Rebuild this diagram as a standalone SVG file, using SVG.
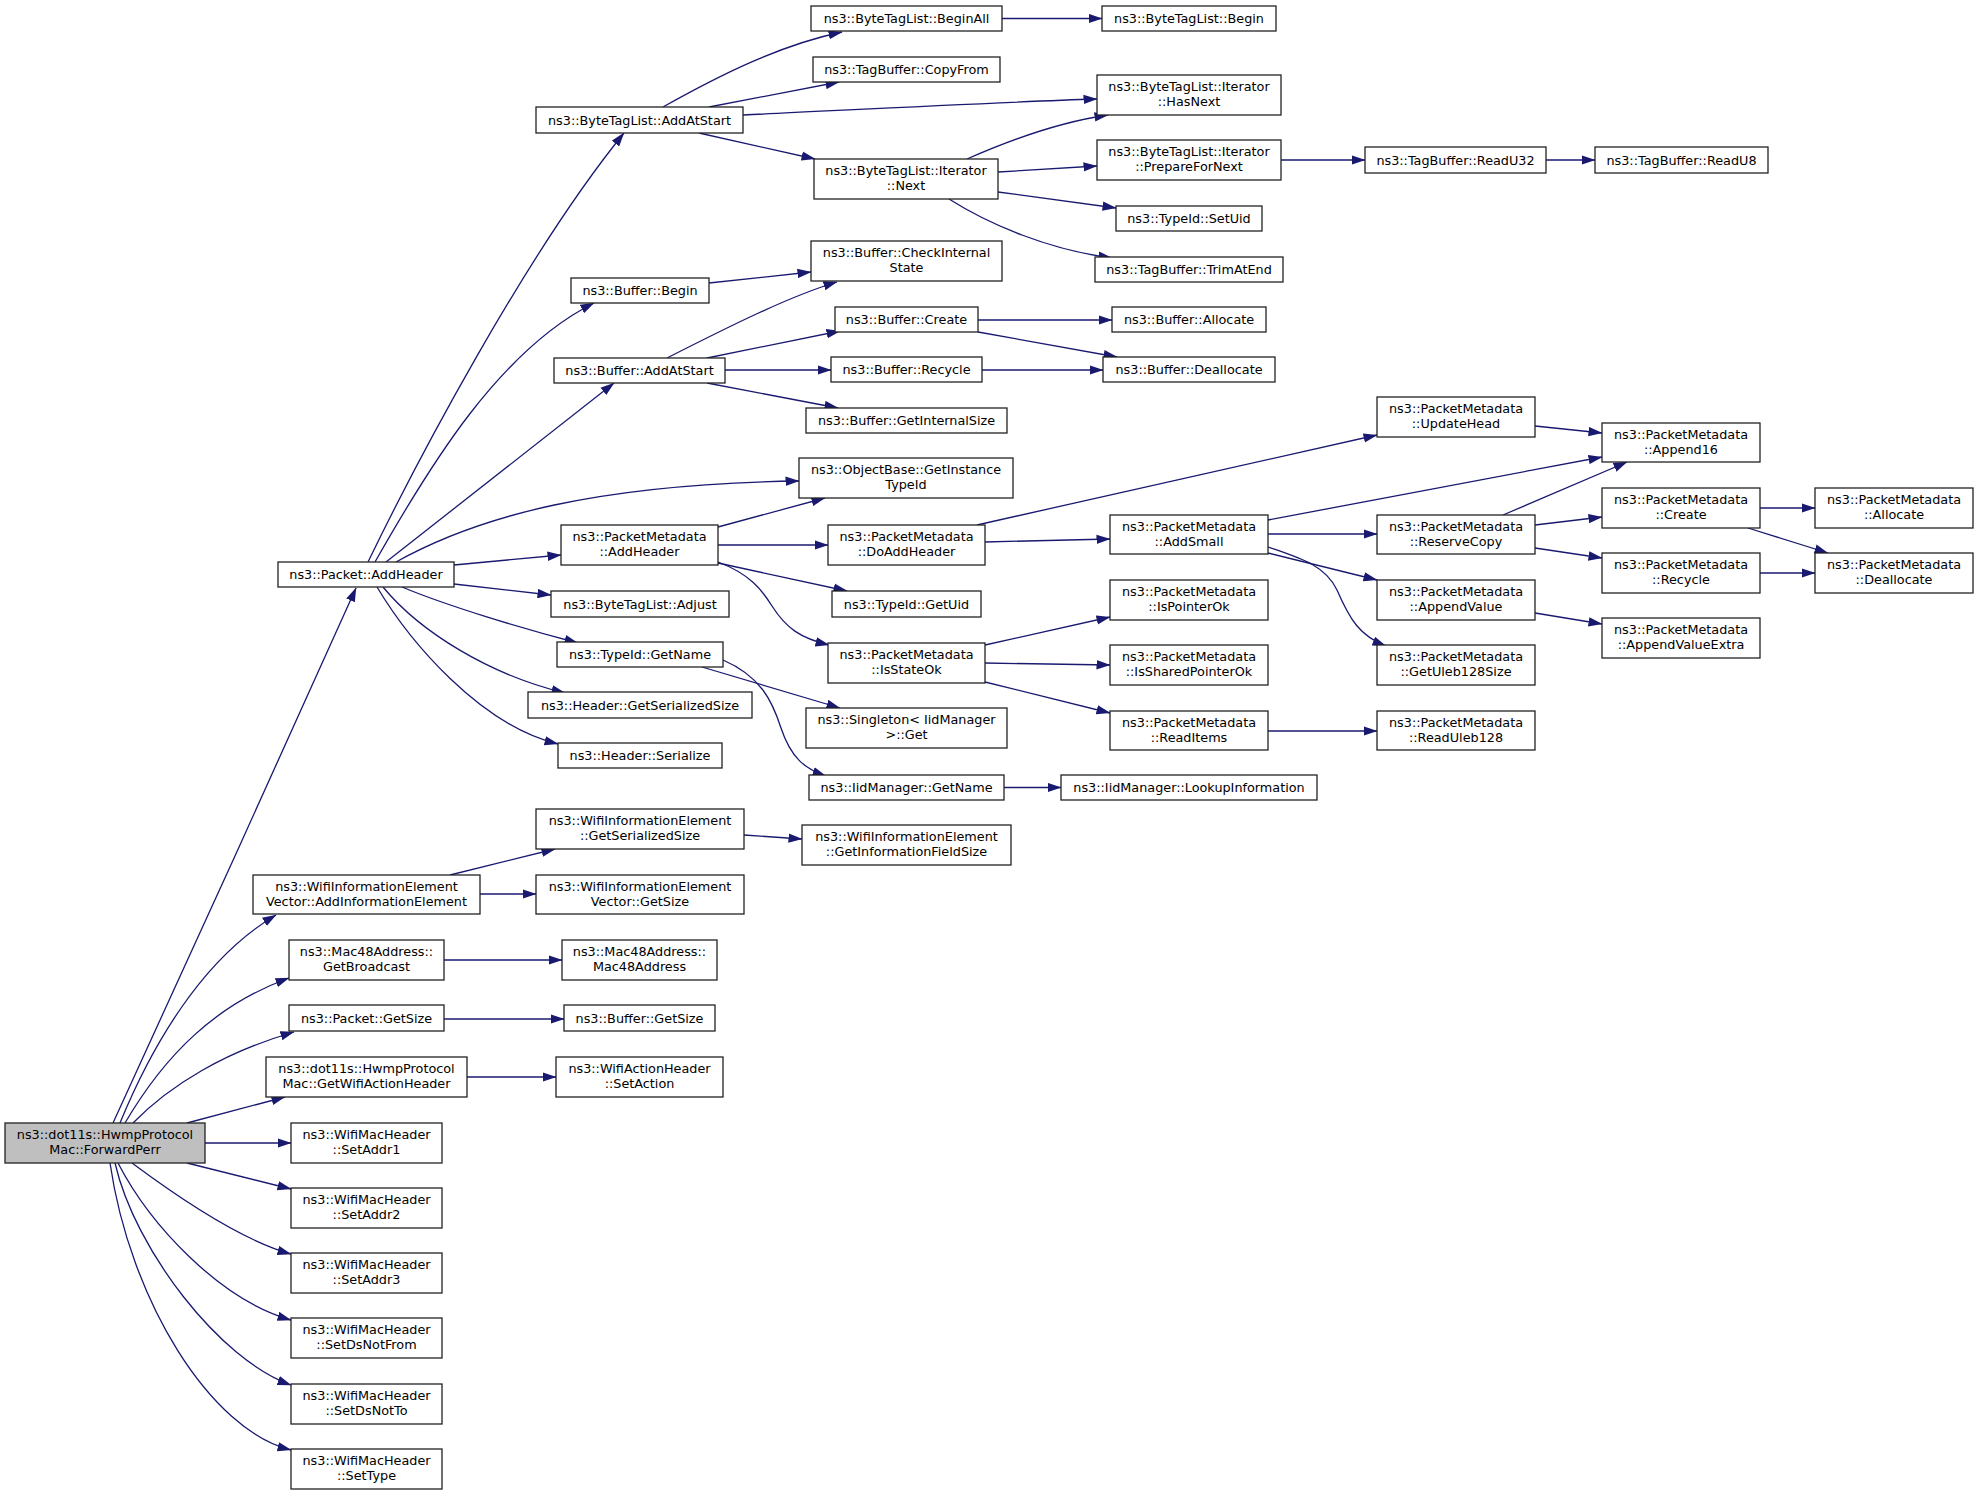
<svg xmlns="http://www.w3.org/2000/svg" width="1979" height="1495" viewBox="0 0 1979 1495">
<style>
.n rect{fill:#ffffff;stroke:#222222;stroke-width:1.3}
.n.root rect{fill:#bfbfbf}
text{font-family:"DejaVu Sans","Liberation Sans",sans-serif;font-size:12.8px;text-anchor:middle;fill:#000000}
#edges path{fill:none;stroke:#191970;stroke-width:1.3;marker-end:url(#arr)}
</style>
<defs>
<marker id="arr" markerUnits="userSpaceOnUse" markerWidth="14" markerHeight="10" viewBox="0 0 14 9.4" refX="13.5" refY="4.7" orient="auto">
<path d="M0,0 L14,4.7 L0,9.4 z" fill="#191970"/>
</marker>
</defs>
<rect x="0" y="0" width="1979" height="1495" fill="#ffffff"/>
<g id="edges">
<path d="M113,1123 C170,998 300,715 356,588"/>
<path d="M120,1123 C150,1050 200,960 276,915"/>
<path d="M125,1123 C165,1055 215,1005 289,978"/>
<path d="M133,1123 C170,1085 225,1052 294,1032"/>
<path d="M187,1123 L285,1097"/>
<path d="M205,1143 L291,1143"/>
<path d="M187,1163 L291,1189"/>
<path d="M132,1163 C175,1195 240,1240 291,1254"/>
<path d="M118,1163 C150,1225 220,1300 291,1320"/>
<path d="M115,1163 C135,1250 220,1360 291,1385"/>
<path d="M110,1163 C130,1300 210,1430 291,1450"/>
<path d="M368,562 C415,465 525,255 624,133"/>
<path d="M375,562 C430,465 500,350 594,303"/>
<path d="M386,562 L614,383"/>
<path d="M396,562 C480,515 600,484 799,481"/>
<path d="M454,565 L561,555"/>
<path d="M454,584 L551,595"/>
<path d="M402,587 C445,605 520,628 578,643"/>
<path d="M383,587 C420,632 490,675 565,693"/>
<path d="M377,587 C410,642 480,725 558,744"/>
<path d="M663,107 C720,75 780,45 842,32"/>
<path d="M709,107 L839,82"/>
<path d="M743,115 C850,110 1000,102 1097,99"/>
<path d="M699,133 L815,159"/>
<path d="M967,159 C1010,140 1060,122 1108,115"/>
<path d="M998,172 L1097,166"/>
<path d="M998,192 L1116,208"/>
<path d="M949,199 C990,225 1050,250 1112,258"/>
<path d="M1281,160 L1365,160"/>
<path d="M1546,160 L1595,160"/>
<path d="M1002,18.5 L1102,18.5"/>
<path d="M709,283 L811,272"/>
<path d="M667,358 C730,326 790,296 837,282"/>
<path d="M707,358 L840,331"/>
<path d="M725,370 L831,370"/>
<path d="M707,383 L838,408"/>
<path d="M978,320 L1112,320"/>
<path d="M978,332 L1117,357"/>
<path d="M982,370 L1103,370"/>
<path d="M718,527 L825,498"/>
<path d="M718,545 L828,545"/>
<path d="M718,563 L847,591"/>
<path d="M718,562 C750,574 762,590 772,606 C786,628 800,638 829,645"/>
<path d="M702,667 L840,708"/>
<path d="M723,660 C760,676 772,700 781,728 C791,758 805,769 826,776"/>
<path d="M1004,787.5 L1061,787.5"/>
<path d="M977,525 L1377,435"/>
<path d="M985,542 L1110,539"/>
<path d="M985,645 L1110,617"/>
<path d="M985,663 L1110,665"/>
<path d="M985,682 L1110,713"/>
<path d="M1268,520 L1602,457"/>
<path d="M1268,534 L1377,534"/>
<path d="M1268,553 L1377,580"/>
<path d="M1268,547 C1300,558 1325,565 1337,590 C1350,620 1360,636 1386,646"/>
<path d="M1503,515 L1627,462"/>
<path d="M1535,525 L1602,517"/>
<path d="M1535,548 L1602,558"/>
<path d="M1535,426 L1602,433"/>
<path d="M1535,613 L1602,624"/>
<path d="M1268,731 L1377,731"/>
<path d="M1760,508 L1815,508"/>
<path d="M1748,528 L1828,553"/>
<path d="M1760,573 L1815,573"/>
<path d="M450,875 L555,849"/>
<path d="M480,894 L536,894"/>
<path d="M744,835 L802,839"/>
<path d="M444,960 L562,960"/>
<path d="M444,1019 L564,1019"/>
<path d="M467,1077 L556,1077"/>
</g>
<g id="n_forwardperr" class="n root"><rect x="5" y="1123" width="200" height="40"/><text x="105" y="1139.3">ns3::dot11s::HwmpProtocol</text><text x="105" y="1154">Mac::ForwardPerr</text></g>
<g id="n_packet_addheader" class="n"><rect x="278" y="562" width="176" height="25"/><text x="366" y="579">ns3::Packet::AddHeader</text></g>
<g id="n_addinfoelem" class="n"><rect x="253" y="875" width="227" height="39"/><text x="366.5" y="890.8">ns3::WifiInformationElement</text><text x="366.5" y="905.5">Vector::AddInformationElement</text></g>
<g id="n_getbroadcast" class="n"><rect x="289" y="940" width="155" height="40"/><text x="366.5" y="956.3">ns3::Mac48Address::</text><text x="366.5" y="971">GetBroadcast</text></g>
<g id="n_packet_getsize" class="n"><rect x="289" y="1005" width="155" height="26"/><text x="366.5" y="1022.5">ns3::Packet::GetSize</text></g>
<g id="n_getwifiactionheader" class="n"><rect x="266" y="1057" width="201" height="40"/><text x="366.5" y="1073.3">ns3::dot11s::HwmpProtocol</text><text x="366.5" y="1088">Mac::GetWifiActionHeader</text></g>
<g id="n_setaddr1" class="n"><rect x="291" y="1123" width="151" height="40"/><text x="366.5" y="1139.3">ns3::WifiMacHeader</text><text x="366.5" y="1154">::SetAddr1</text></g>
<g id="n_setaddr2" class="n"><rect x="291" y="1188" width="151" height="40"/><text x="366.5" y="1204.3">ns3::WifiMacHeader</text><text x="366.5" y="1219">::SetAddr2</text></g>
<g id="n_setaddr3" class="n"><rect x="291" y="1253" width="151" height="40"/><text x="366.5" y="1269.3">ns3::WifiMacHeader</text><text x="366.5" y="1284">::SetAddr3</text></g>
<g id="n_setdsnotfrom" class="n"><rect x="291" y="1318" width="151" height="40"/><text x="366.5" y="1334.3">ns3::WifiMacHeader</text><text x="366.5" y="1349">::SetDsNotFrom</text></g>
<g id="n_setdsnotto" class="n"><rect x="291" y="1384" width="151" height="40"/><text x="366.5" y="1400.3">ns3::WifiMacHeader</text><text x="366.5" y="1415">::SetDsNotTo</text></g>
<g id="n_settype" class="n"><rect x="291" y="1449" width="151" height="40"/><text x="366.5" y="1465.3">ns3::WifiMacHeader</text><text x="366.5" y="1480">::SetType</text></g>
<g id="n_btl_addatstart" class="n"><rect x="536" y="107" width="207" height="26"/><text x="639.5" y="124.5">ns3::ByteTagList::AddAtStart</text></g>
<g id="n_buffer_begin" class="n"><rect x="571" y="278" width="138" height="25"/><text x="640" y="295">ns3::Buffer::Begin</text></g>
<g id="n_buffer_addatstart" class="n"><rect x="554" y="358" width="171" height="25"/><text x="639.5" y="375">ns3::Buffer::AddAtStart</text></g>
<g id="n_pm_addheader" class="n"><rect x="561" y="525" width="157" height="40"/><text x="639.5" y="541.3">ns3::PacketMetadata</text><text x="639.5" y="556">::AddHeader</text></g>
<g id="n_btl_adjust" class="n"><rect x="551" y="591" width="178" height="26"/><text x="640" y="608.5">ns3::ByteTagList::Adjust</text></g>
<g id="n_typeid_getname" class="n"><rect x="557" y="642" width="166" height="25"/><text x="640" y="659">ns3::TypeId::GetName</text></g>
<g id="n_header_getserializedsize" class="n"><rect x="528" y="692" width="224" height="26"/><text x="640" y="709.5">ns3::Header::GetSerializedSize</text></g>
<g id="n_header_serialize" class="n"><rect x="558" y="743" width="164" height="25"/><text x="640" y="760">ns3::Header::Serialize</text></g>
<g id="n_wie_getserializedsize" class="n"><rect x="536" y="809" width="208" height="40"/><text x="640" y="825.3">ns3::WifiInformationElement</text><text x="640" y="840">::GetSerializedSize</text></g>
<g id="n_wiev_getsize" class="n"><rect x="536" y="875" width="208" height="39"/><text x="640" y="890.8">ns3::WifiInformationElement</text><text x="640" y="905.5">Vector::GetSize</text></g>
<g id="n_mac48address" class="n"><rect x="562" y="940" width="155" height="40"/><text x="639.5" y="956.3">ns3::Mac48Address::</text><text x="639.5" y="971">Mac48Address</text></g>
<g id="n_buffer_getsize" class="n"><rect x="564" y="1005" width="151" height="26"/><text x="639.5" y="1022.5">ns3::Buffer::GetSize</text></g>
<g id="n_setaction" class="n"><rect x="556" y="1057" width="167" height="40"/><text x="639.5" y="1073.3">ns3::WifiActionHeader</text><text x="639.5" y="1088">::SetAction</text></g>
<g id="n_btl_beginall" class="n"><rect x="811" y="6" width="191" height="25"/><text x="906.5" y="23">ns3::ByteTagList::BeginAll</text></g>
<g id="n_tb_copyfrom" class="n"><rect x="813" y="57" width="187" height="25"/><text x="906.5" y="74">ns3::TagBuffer::CopyFrom</text></g>
<g id="n_iter_next" class="n"><rect x="814" y="159" width="184" height="40"/><text x="906" y="175.3">ns3::ByteTagList::Iterator</text><text x="906" y="190">::Next</text></g>
<g id="n_checkinternalstate" class="n"><rect x="811" y="241" width="191" height="40"/><text x="906.5" y="257.3">ns3::Buffer::CheckInternal</text><text x="906.5" y="272">State</text></g>
<g id="n_buffer_create" class="n"><rect x="835" y="307" width="143" height="25"/><text x="906.5" y="324">ns3::Buffer::Create</text></g>
<g id="n_buffer_recycle" class="n"><rect x="831" y="357" width="151" height="25"/><text x="906.5" y="374">ns3::Buffer::Recycle</text></g>
<g id="n_buffer_getinternalsize" class="n"><rect x="806" y="408" width="201" height="25"/><text x="906.5" y="425">ns3::Buffer::GetInternalSize</text></g>
<g id="n_getinstancetypeid" class="n"><rect x="799" y="458" width="214" height="40"/><text x="906" y="474.3">ns3::ObjectBase::GetInstance</text><text x="906" y="489">TypeId</text></g>
<g id="n_pm_doaddheader" class="n"><rect x="828" y="525" width="157" height="40"/><text x="906.5" y="541.3">ns3::PacketMetadata</text><text x="906.5" y="556">::DoAddHeader</text></g>
<g id="n_typeid_getuid" class="n"><rect x="832" y="591" width="149" height="26"/><text x="906.5" y="608.5">ns3::TypeId::GetUid</text></g>
<g id="n_pm_isstateok" class="n"><rect x="828" y="643" width="157" height="40"/><text x="906.5" y="659.3">ns3::PacketMetadata</text><text x="906.5" y="674">::IsStateOk</text></g>
<g id="n_singleton_get" class="n"><rect x="806" y="708" width="201" height="40"/><text x="906.5" y="724.3">ns3::Singleton&lt; IidManager</text><text x="906.5" y="739">&gt;::Get</text></g>
<g id="n_iidmanager_getname" class="n"><rect x="809" y="775" width="195" height="25"/><text x="906.5" y="792">ns3::IidManager::GetName</text></g>
<g id="n_wie_getinfofieldsize" class="n"><rect x="802" y="825" width="209" height="40"/><text x="906.5" y="841.3">ns3::WifiInformationElement</text><text x="906.5" y="856">::GetInformationFieldSize</text></g>
<g id="n_btl_begin" class="n"><rect x="1102" y="6" width="174" height="25"/><text x="1189" y="23">ns3::ByteTagList::Begin</text></g>
<g id="n_iter_hasnext" class="n"><rect x="1097" y="75" width="184" height="40"/><text x="1189" y="91.3">ns3::ByteTagList::Iterator</text><text x="1189" y="106">::HasNext</text></g>
<g id="n_iter_preparefornext" class="n"><rect x="1097" y="140" width="184" height="40"/><text x="1189" y="156.3">ns3::ByteTagList::Iterator</text><text x="1189" y="171">::PrepareForNext</text></g>
<g id="n_typeid_setuid" class="n"><rect x="1116" y="206" width="146" height="25"/><text x="1189" y="223">ns3::TypeId::SetUid</text></g>
<g id="n_tb_trimatend" class="n"><rect x="1095" y="257" width="188" height="25"/><text x="1189" y="274">ns3::TagBuffer::TrimAtEnd</text></g>
<g id="n_buffer_allocate" class="n"><rect x="1112" y="307" width="154" height="25"/><text x="1189" y="324">ns3::Buffer::Allocate</text></g>
<g id="n_buffer_deallocate" class="n"><rect x="1103" y="357" width="172" height="25"/><text x="1189" y="374">ns3::Buffer::Deallocate</text></g>
<g id="n_pm_addsmall" class="n"><rect x="1110" y="515" width="158" height="39"/><text x="1189" y="530.8">ns3::PacketMetadata</text><text x="1189" y="545.5">::AddSmall</text></g>
<g id="n_pm_ispointerok" class="n"><rect x="1110" y="580" width="158" height="40"/><text x="1189" y="596.3">ns3::PacketMetadata</text><text x="1189" y="611">::IsPointerOk</text></g>
<g id="n_pm_issharedpointerok" class="n"><rect x="1110" y="645" width="158" height="40"/><text x="1189" y="661.3">ns3::PacketMetadata</text><text x="1189" y="676">::IsSharedPointerOk</text></g>
<g id="n_pm_readitems" class="n"><rect x="1110" y="711" width="158" height="39"/><text x="1189" y="726.8">ns3::PacketMetadata</text><text x="1189" y="741.5">::ReadItems</text></g>
<g id="n_iidmanager_lookupinfo" class="n"><rect x="1061" y="775" width="256" height="25"/><text x="1189" y="792">ns3::IidManager::LookupInformation</text></g>
<g id="n_tb_readu32" class="n"><rect x="1365" y="147" width="181" height="26"/><text x="1455.5" y="164.5">ns3::TagBuffer::ReadU32</text></g>
<g id="n_pm_updatehead" class="n"><rect x="1377" y="397" width="158" height="40"/><text x="1456" y="413.3">ns3::PacketMetadata</text><text x="1456" y="428">::UpdateHead</text></g>
<g id="n_pm_reservecopy" class="n"><rect x="1377" y="515" width="158" height="39"/><text x="1456" y="530.8">ns3::PacketMetadata</text><text x="1456" y="545.5">::ReserveCopy</text></g>
<g id="n_pm_appendvalue" class="n"><rect x="1377" y="580" width="158" height="40"/><text x="1456" y="596.3">ns3::PacketMetadata</text><text x="1456" y="611">::AppendValue</text></g>
<g id="n_pm_getuleb128size" class="n"><rect x="1377" y="645" width="158" height="40"/><text x="1456" y="661.3">ns3::PacketMetadata</text><text x="1456" y="676">::GetUleb128Size</text></g>
<g id="n_pm_readuleb128" class="n"><rect x="1377" y="711" width="158" height="39"/><text x="1456" y="726.8">ns3::PacketMetadata</text><text x="1456" y="741.5">::ReadUleb128</text></g>
<g id="n_tb_readu8" class="n"><rect x="1595" y="147" width="173" height="26"/><text x="1681.5" y="164.5">ns3::TagBuffer::ReadU8</text></g>
<g id="n_pm_append16" class="n"><rect x="1602" y="423" width="158" height="39"/><text x="1681" y="438.8">ns3::PacketMetadata</text><text x="1681" y="453.5">::Append16</text></g>
<g id="n_pm_create" class="n"><rect x="1602" y="488" width="158" height="40"/><text x="1681" y="504.3">ns3::PacketMetadata</text><text x="1681" y="519">::Create</text></g>
<g id="n_pm_recycle" class="n"><rect x="1602" y="553" width="158" height="40"/><text x="1681" y="569.3">ns3::PacketMetadata</text><text x="1681" y="584">::Recycle</text></g>
<g id="n_pm_appendvalueextra" class="n"><rect x="1602" y="618" width="158" height="40"/><text x="1681" y="634.3">ns3::PacketMetadata</text><text x="1681" y="649">::AppendValueExtra</text></g>
<g id="n_pm_allocate" class="n"><rect x="1815" y="488" width="158" height="40"/><text x="1894" y="504.3">ns3::PacketMetadata</text><text x="1894" y="519">::Allocate</text></g>
<g id="n_pm_deallocate" class="n"><rect x="1815" y="553" width="158" height="40"/><text x="1894" y="569.3">ns3::PacketMetadata</text><text x="1894" y="584">::Deallocate</text></g>
</svg>
